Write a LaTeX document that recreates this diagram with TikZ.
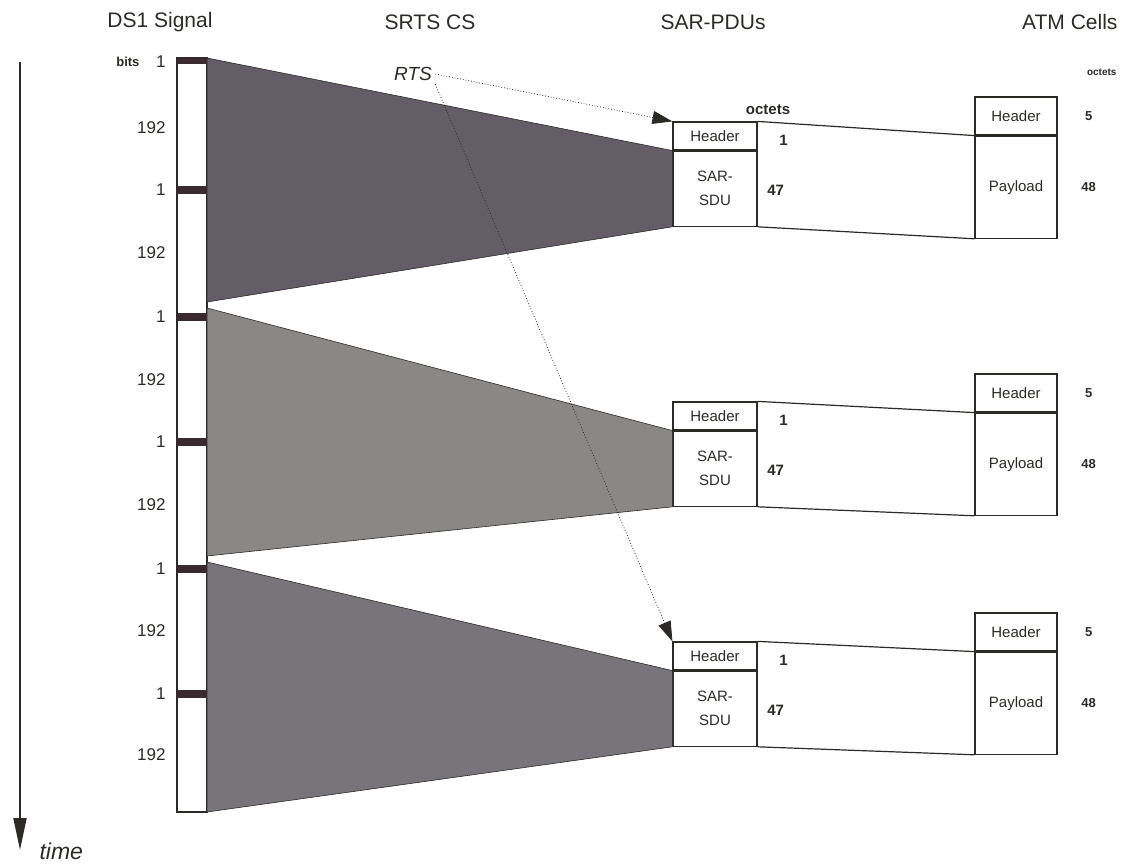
\documentclass[tikz,border=0pt]{standalone}
\usepackage{fontspec}
\setmainfont{Liberation Sans}
\usepackage{xcolor}
\definecolor{inkDark}  {HTML}{2B2A26}
\definecolor{barDark}  {HTML}{3A2A30}
\definecolor{wedgeA}   {HTML}{625D66}
\definecolor{wedgeB}   {HTML}{8A8887}
\definecolor{wedgeC}   {HTML}{77757A}
\usetikzlibrary{arrows.meta, positioning, calc}

\begin{document}
\begin{tikzpicture}[x=1pt, y=-1pt,
    every node/.style={font=\fontsize{15}{24}\selectfont, text=inkDark},
    title/.style={font=\fontsize{21}{24}\selectfont},
    num/.style={font=\bfseries\fontsize{15}{17}\selectfont},
    small/.style={font=\bfseries\fontsize{13}{15}\selectfont},
    bitlbl/.style={font=\fontsize{17}{19}\selectfont, anchor=east},
    pdubox/.style={draw=inkDark, line width=1.2pt, minimum width=84pt,
                   inner sep=0pt, align=center},
    atmbox/.style={draw=inkDark, line width=1.2pt, minimum width=82pt,
                   inner sep=0pt, align=center},
    edge/.style={draw=inkDark, line width=1.2pt},
    wedge/.style={draw=inkDark, line width=0.6pt},
    bar/.style={fill=barDark},
    rts/.style={draw=inkDark, dotted, thick, -{Triangle[length=20pt,width=13pt]}}
]
\useasboundingbox (0,0) rectangle (1121,866);
\clip (0,0) rectangle (1121,866);
% Column titles
\node[title] (tDS)  at (160,22)  {DS1 Signal};
\node[title] (tCS)  at (430,22)  {SRTS CS};
\node[title] (tPDU) at (713,22)  {SAR-PDUs};
\node[title, anchor=east] (tATM) at (1121,22) {ATM Cells};
% SAR-PDUs
\node[pdubox, minimum height=28pt] (h1) at (715,136) {Header};
\node[pdubox, minimum height=75pt, below=0pt of h1] (s1) {SAR-\\SDU};
\node[pdubox, minimum height=28pt] (h2) at (715,416) {Header};
\node[pdubox, minimum height=75pt, below=0pt of h2] (s2) {SAR-\\SDU};
\node[pdubox, minimum height=28pt] (h3) at (715,656) {Header};
\node[pdubox, minimum height=75pt, below=0pt of h3] (s3) {SAR-\\SDU};
% ATM cells
\node[atmbox, minimum height=38pt] (ah1) at (1016,116) {Header};
\node[atmbox, minimum height=102pt, below=0pt of ah1] (ap1) {Payload};
\node[atmbox, minimum height=38pt] (ah2) at (1016,393) {Header};
\node[atmbox, minimum height=102pt, below=0pt of ah2] (ap2) {Payload};
\node[atmbox, minimum height=38pt] (ah3) at (1016,632) {Header};
\node[atmbox, minimum height=102pt, below=0pt of ah3] (ap3) {Payload};
% PDU mapped into cell payload
\draw[edge] (h1.north east) -- (ap1.north west);
\draw[edge] (s1.south east) -- (ap1.south west);
\draw[edge] (h2.north east) -- (ap2.north west);
\draw[edge] (s2.south east) -- (ap2.south west);
\draw[edge] (h3.north east) -- (ap3.north west);
\draw[edge] (s3.south east) -- (ap3.south west);
% octet counts
\node[num] (oct) at (768,110) {octets};
\node[num] (o1a) at ($(h1.east)+(26,4)$) {1};
\node[num] (o1b) at ($(s1.east)+(18,2)$) {47};
\node[num] (o2a) at ($(h2.east)+(26,4)$) {1};
\node[num] (o2b) at ($(s2.east)+(18,2)$) {47};
\node[num] (o3a) at ($(h3.east)+(26,4)$) {1};
\node[num] (o3b) at ($(s3.east)+(18,2)$) {47};
\node[small, font=\bfseries\fontsize{10}{12}\selectfont, anchor=east] (octR) at (1120,72) {octets};
\node[small] (c1a) at ($(ah1.east)+(31,0)$) {5};
\node[small] (c1b) at ($(ap1.east)+(31,0)$) {48};
\node[small] (c2a) at ($(ah2.east)+(31,0)$) {5};
\node[small] (c2b) at ($(ap2.east)+(31,0)$) {48};
\node[small] (c3a) at ($(ah3.east)+(31,0)$) {5};
\node[small] (c3b) at ($(ap3.east)+(31,0)$) {48};
% DS1 bit stream
\node[draw=inkDark, line width=1.2pt, minimum width=30pt, minimum height=754pt,
      inner sep=0pt] (ds1) at (192,435) {};
\coordinate (w1t) at (207,58);
\coordinate (w1b) at (207,302);
\coordinate (w2t) at (207,308);
\coordinate (w2b) at (207,556);
\coordinate (w3t) at (207,562);
\coordinate (w3b) at (207,812);
% SRTS CS wedges
\filldraw[wedge, fill=wedgeA] (w1t) -- (s1.north west) -- (s1.south west) -- (w1b) -- cycle;
\filldraw[wedge, fill=wedgeB] (w2t) -- (s2.north west) -- (s2.south west) -- (w2b) -- cycle;
\filldraw[wedge, fill=wedgeC] (w3t) -- (s3.north west) -- (s3.south west) -- (w3b) -- cycle;
% framing bits
\fill[bar] (177,58)  rectangle (207,64);
\fill[bar] (177,186) rectangle (207,194);
\fill[bar] (177,313) rectangle (207,321);
\fill[bar] (177,438) rectangle (207,446);
\fill[bar] (177,565) rectangle (207,573);
\fill[bar] (177,690) rectangle (207,698);
\node[small, anchor=east] (bits) at (143,62) {bits};
\node[bitlbl] (b1)  at (169,62)  {1};
\node[bitlbl] (b2)  at (169,128) {192};
\node[bitlbl] (b3)  at (169,190) {1};
\node[bitlbl] (b4)  at (169,253) {192};
\node[bitlbl] (b5)  at (169,317) {1};
\node[bitlbl] (b6)  at (169,380) {192};
\node[bitlbl] (b7)  at (169,442) {1};
\node[bitlbl] (b8)  at (169,505) {192};
\node[bitlbl] (b9)  at (169,569) {1};
\node[bitlbl] (b10) at (169,631) {192};
\node[bitlbl] (b11) at (169,694) {1};
\node[bitlbl] (b12) at (169,755) {192};
% RTS carried in the headers
\node[font=\itshape\fontsize{19}{21}\selectfont] (rts) at (413,74) {RTS};
\draw[rts] (rts.east) -- (h1.north west);
\draw[rts] (rts.south east) -- (h3.north west);
% time axis
\coordinate (t0) at (20,62);
\coordinate (t1) at (20,850);
\draw[draw=inkDark, line width=1.8pt, -{Triangle[length=32pt,width=13pt]}] (t0) -- (t1);
\node[font=\itshape\fontsize{23}{25}\selectfont, anchor=west] (tlbl) at (36,851) {time};
\end{tikzpicture}
\end{document}
